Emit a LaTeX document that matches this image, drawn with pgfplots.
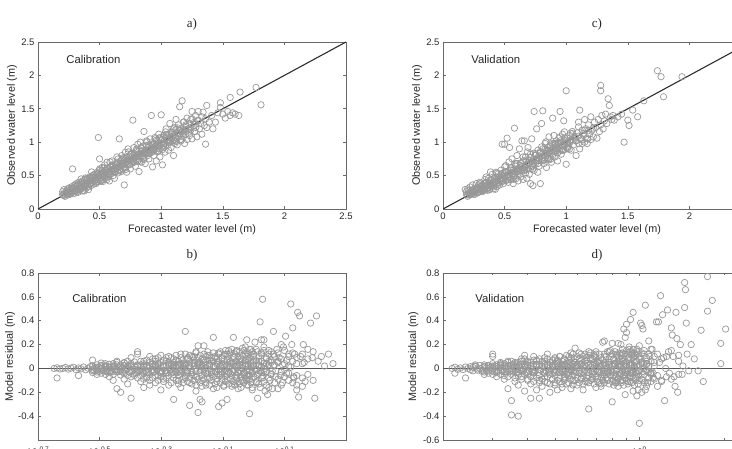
\documentclass[border=0pt]{standalone}
\usepackage{fontspec}
\setmainfont{Liberation Sans}
\newfontfamily\titlefont{Liberation Serif}
\usepackage{pgfplots}
\pgfplotsset{compat=1.18}

\definecolor{mk}{RGB}{152,152,152}
\definecolor{frame}{RGB}{105,105,105}
\definecolor{txt}{RGB}{40,40,40}
\definecolor{refline}{RGB}{45,45,45}
\definecolor{zeroline}{RGB}{85,85,85}

\pgfplotsset{
  panel/.style={
    scale only axis, width=308pt, height=167pt, anchor=south west,
    axis line style={draw=frame, line width=0.6pt},
    every tick/.style={draw=frame, line width=0.6pt},
    major tick length=3pt, minor tick length=2pt,
    tick align=inside,
    tick label style={font=\fontsize{9.5}{10}\selectfont, text=txt},
    /pgf/number format/assume math mode=true,
    label style={font=\fontsize{10.8}{12}\selectfont, text=txt},
    title style={font=\titlefont\fontsize{13}{14}\selectfont, text=txt,
                 at={(axis description cs:0.5,1.072)}, anchor=center},
    xlabel style={at={(axis description cs:0.5,-0.126)}, anchor=center},
  },
  pts/.style={only marks, mark=o, mark size=3.2pt,
              mark options={draw=mk, line width=0.7pt}},
}
\tikzset{tag/.style={anchor=west, font=\fontsize{11.3}{12}\selectfont, text=txt}}

\begin{document}
\begin{tikzpicture}[x=1pt,y=1pt]
\useasboundingbox (0,0) rectangle (732,449);
\clip (0,0) rectangle (732,449);

% ---------------- a) calibration: observed vs forecasted
\begin{axis}[panel, at={(38pt,240pt)},
  title={a)}, xlabel={Forecasted water level (m)}, ylabel={Observed water level (m)},
  ylabel style={at={(axis description cs:-0.084,0.5)}, anchor=center},
  xmin=0, xmax=2.5, ymin=0, ymax=2.5,
  xtick={0,0.5,1,1.5,2,2.5}, ytick={0,0.5,1,1.5,2,2.5}]
\addplot[pts] coordinates {
(0.20,0.22)(0.20,0.26)(0.21,0.20)(0.21,0.29)(0.22,0.24)(0.22,0.19)(0.23,0.27)(0.23,0.22)(0.24,0.30)(0.24,0.21)
(0.25,0.25)(0.25,0.31)(0.26,0.22)(0.26,0.28)(0.27,0.33)(0.27,0.24)(0.28,0.26)(0.28,0.60)(0.28,0.31)(0.29,0.23)
(0.29,0.35)(0.30,0.28)(0.30,0.33)(0.31,0.25)(0.31,0.38)(0.32,0.30)(0.32,0.35)(0.33,0.27)(0.33,0.40)(0.34,0.32)
(0.34,0.29)(0.35,0.37)(0.35,0.30)(0.36,0.42)(0.36,0.33)(0.37,0.28)(0.37,0.39)(0.38,0.35)(0.38,0.44)(0.39,0.31)
(0.39,0.40)(0.40,0.36)(0.40,0.46)(0.41,0.33)(0.41,0.42)(0.42,0.38)(0.42,0.48)(0.43,0.35)(0.43,0.45)(0.44,0.40)
(0.44,0.50)(0.45,0.37)(0.45,0.47)
(0.46,0.43)(0.46,0.52)(0.47,0.38)(0.47,0.49)(0.48,0.45)(0.48,0.55)(0.49,0.41)(0.49,1.07)(0.49,0.50)(0.50,0.46)
(0.50,0.58)(0.50,0.75)(0.51,0.42)(0.51,0.53)(0.52,0.48)(0.52,0.62)(0.53,0.44)(0.53,0.55)(0.54,0.50)(0.54,0.66)
(0.55,0.46)(0.55,0.58)(0.56,0.52)(0.56,0.70)(0.57,0.48)(0.57,0.60)(0.58,0.55)(0.58,0.42)(0.59,0.62)(0.59,0.52)
(0.60,0.58)(0.60,0.72)(0.61,0.50)(0.61,0.64)(0.62,0.60)(0.62,0.46)(0.63,0.66)(0.63,0.56)(0.64,0.78)(0.64,0.61)
(0.65,0.54)(0.65,0.68)(0.66,0.63)(0.66,1.05)(0.67,0.72)(0.67,0.58)(0.68,0.65)(0.68,0.80)(0.69,0.60)(0.69,0.70)
(0.70,0.36)(0.70,0.66)(0.70,0.76)(0.71,0.62)(0.71,0.85)(0.72,0.70)(0.72,0.55)(0.73,0.74)(0.73,0.90)(0.74,0.66)
(0.74,0.79)(0.75,0.60)(0.75,0.72)(0.76,0.82)(0.76,0.68)(0.77,1.33)(0.77,0.76)(0.78,0.92)(0.78,0.70)(0.79,0.80)
(0.79,0.64)(0.80,0.75)(0.80,0.88)(0.81,0.97)(0.81,0.72)(0.82,0.56)(0.82,0.83)(0.83,0.78)(0.83,1.00)(0.84,0.86)
(0.84,0.70)(0.85,0.80)(0.85,0.94)(0.86,1.16)(0.86,0.76)(0.87,0.88)(0.87,0.68)(0.88,0.84)(0.88,1.02)(0.89,0.80)
(0.89,0.92)(0.90,0.75)(0.90,0.88)(0.91,1.05)(0.91,0.84)(0.92,1.40)(0.92,0.95)(0.93,0.63)(0.93,0.88)(0.94,0.98)
(0.94,0.80)(0.95,1.07)(0.95,0.90)(0.96,0.72)(0.96,0.96)(0.97,1.02)(0.97,0.86)(0.98,0.94)(0.98,1.12)(0.99,0.90)
(0.99,0.78)(1.00,1.41)(1.00,0.98)
(1.01,0.66)(1.01,1.04)(1.02,0.92)(1.02,1.10)(1.03,0.98)(1.03,0.85)(1.04,1.06)(1.04,1.20)(1.05,0.95)(1.05,1.02)
(1.06,1.12)(1.06,0.88)(1.07,1.00)(1.07,1.28)(1.08,1.08)(1.08,0.92)(1.09,1.15)(1.09,1.02)(1.10,0.80)(1.10,1.10)
(1.11,0.98)(1.11,1.22)(1.12,1.06)(1.12,1.34)(1.13,1.14)(1.13,0.96)(1.14,1.08)(1.14,1.26)(1.15,1.53)(1.15,1.12)
(1.16,1.02)(1.16,1.20)(1.17,1.62)(1.17,1.16)(1.18,1.08)(1.18,1.30)(1.19,1.18)(1.19,0.98)(1.20,1.24)(1.20,1.12)
(1.21,1.36)(1.21,1.04)(1.22,1.20)(1.23,1.28)(1.23,1.10)(1.24,1.34)(1.24,1.18)(1.25,1.46)(1.25,1.05)(1.26,1.24)
(1.27,1.30)(1.27,1.16)(1.28,1.40)(1.28,1.22)(1.29,1.08)(1.30,1.32)(1.30,1.46)(1.31,1.20)(1.32,1.28)(1.33,1.38)
(1.33,1.12)(1.34,1.45)(1.35,1.25)(1.36,0.97)(1.36,1.35)(1.37,1.55)(1.37,1.22)
(1.39,1.30)(1.41,1.40)(1.42,1.20)(1.44,1.30)(1.46,1.44)(1.48,1.52)(1.48,1.59)(1.50,1.42)(1.52,1.36)(1.54,1.46)
(1.56,1.67)(1.56,1.40)(1.58,1.44)(1.60,1.42)(1.63,1.40)(1.64,1.75)(1.77,1.82)(1.81,1.56)
(0.21,0.22)(0.23,0.24)(0.25,0.26)(0.27,0.27)(0.29,0.30)(0.31,0.31)(0.33,0.34)(0.35,0.34)(0.37,0.37)(0.39,0.38)
(0.41,0.40)(0.43,0.43)(0.45,0.44)(0.47,0.47)(0.49,0.48)(0.51,0.50)(0.53,0.52)(0.55,0.55)(0.57,0.56)(0.59,0.58)
(0.61,0.60)(0.63,0.62)(0.65,0.64)(0.67,0.66)(0.69,0.68)(0.71,0.70)(0.73,0.72)(0.75,0.74)(0.77,0.76)(0.79,0.78)
(0.81,0.80)(0.83,0.82)(0.85,0.84)(0.87,0.86)(0.89,0.88)(0.91,0.90)(0.93,0.92)(0.95,0.94)(0.97,0.96)(0.99,0.98)
(1.02,1.01)(1.05,1.04)(1.08,1.07)(1.11,1.10)(1.14,1.13)(1.17,1.16)(1.20,1.19)(1.24,1.22)(1.28,1.27)
(0.24,0.27)(0.28,0.31)(0.32,0.36)(0.36,0.40)(0.40,0.44)(0.44,0.48)(0.48,0.53)(0.52,0.57)(0.56,0.61)(0.60,0.65)
(0.64,0.70)(0.68,0.74)(0.72,0.78)(0.76,0.83)(0.80,0.86)(0.84,0.91)(0.88,0.95)(0.92,0.99)(0.96,1.03)(1.00,1.07)
(1.04,1.11)(1.08,1.15)(1.12,1.19)
(0.26,0.23)(0.30,0.27)(0.34,0.30)(0.38,0.33)(0.42,0.37)(0.46,0.41)(0.50,0.44)(0.54,0.48)(0.58,0.52)(0.62,0.56)
(0.66,0.59)(0.70,0.63)(0.74,0.67)(0.78,0.71)(0.82,0.75)(0.86,0.79)(0.90,0.83)(0.94,0.87)(0.98,0.91)(1.02,0.95)
(1.06,0.99)(1.10,1.03)
(0.300,0.36)(0.325,0.25)(0.350,0.45)(0.375,0.27)(0.400,0.43)(0.425,0.39)(0.450,0.51)(0.475,0.40)(0.500,0.60)(0.525,0.41)
(0.550,0.58)(0.575,0.53)(0.600,0.66)(0.625,0.55)(0.650,0.75)(0.675,0.56)(0.700,0.73)(0.725,0.68)(0.750,0.81)(0.775,0.70)
(0.800,0.90)(0.825,0.71)(0.850,0.88)(0.875,0.83)(0.900,0.96)(0.925,0.85)(0.950,1.05)(0.975,0.86)(1.000,1.03)(1.025,0.98)
(1.050,1.11)(1.075,1.00)(1.100,1.20)(1.125,1.01)(1.150,1.18)(1.175,1.13)(1.200,1.26)(1.225,1.15)(1.250,1.35)(1.275,1.16)
(1.300,1.33)
(0.31,0.28)(0.335,0.375)(0.36,0.27)(0.385,0.465)(0.41,0.29)(0.435,0.555)(0.46,0.43)(0.485,0.525)(0.51,0.42)(0.535,0.615)
(0.56,0.44)(0.585,0.705)(0.61,0.58)(0.635,0.675)(0.66,0.57)(0.685,0.765)(0.71,0.59)(0.735,0.855)(0.76,0.73)(0.785,0.825)
(0.81,0.72)(0.835,0.915)(0.86,0.74)(0.885,1.005)(0.91,0.88)(0.935,0.975)(0.96,0.87)(0.985,1.065)(1.01,0.89)(1.035,1.155)
(1.06,1.03)(1.085,1.125)(1.11,1.02)(1.135,1.215)(1.16,1.04)(1.185,1.305)
};
\addplot[refline, line width=1.1pt] coordinates {(0,0) (2.5,2.5)};
\node[tag] at (axis description cs:0.081,0.898) {Calibration};
\end{axis}

% ---------------- c) validation: observed vs forecasted
\begin{axis}[panel, at={(443pt,240pt)},
  title={c)}, xlabel={Forecasted water level (m)}, ylabel={Observed water level (m)},
  ylabel style={at={(axis description cs:-0.084,0.5)}, anchor=center},
  xmin=0, xmax=2.5, ymin=0, ymax=2.5,
  xtick={0,0.5,1,1.5,2,2.5}, ytick={0,0.5,1,1.5,2,2.5}]
\addplot[pts] coordinates {
(0.18,0.29)(0.19,0.22)(0.19,0.26)(0.20,0.30)(0.20,0.19)(0.21,0.24)(0.21,0.28)(0.22,0.21)(0.22,0.33)(0.23,0.26)
(0.23,0.23)(0.24,0.29)(0.24,0.36)(0.25,0.24)(0.25,0.27)(0.26,0.31)(0.26,0.22)(0.27,0.38)(0.27,0.28)(0.28,0.25)
(0.28,0.32)(0.29,0.29)(0.29,0.36)(0.30,0.26)(0.30,0.40)(0.31,0.31)(0.31,0.28)(0.32,0.35)(0.32,0.26)(0.33,0.38)
(0.33,0.31)(0.34,0.44)(0.34,0.29)(0.35,0.34)(0.35,0.40)(0.36,0.31)(0.36,0.36)(0.37,0.46)(0.37,0.33)(0.38,0.39)
(0.38,0.30)(0.39,0.44)(0.39,0.35)(0.40,0.52)(0.40,0.37)(0.41,0.41)(0.41,0.33)(0.42,0.47)(0.42,0.39)(0.43,0.36)
(0.43,0.55)(0.44,0.42)(0.44,0.34)(0.45,0.48)(0.45,0.40)
(0.46,0.44)(0.46,0.36)(0.47,0.58)(0.47,0.47)(0.48,0.41)(0.48,0.97)(0.48,0.50)(0.49,0.38)(0.49,0.45)(0.50,0.55)
(0.50,0.97)(0.51,0.43)(0.51,0.65)(0.52,1.06)(0.52,0.50)(0.53,0.40)(0.53,0.56)(0.54,0.92)(0.54,0.47)(0.55,0.62)
(0.55,0.44)(0.56,0.52)(0.56,0.75)(0.57,0.38)(0.57,0.58)(0.58,1.21)(0.58,0.50)(0.59,0.66)(0.59,0.45)(0.60,0.56)
(0.60,0.80)(0.61,0.42)(0.61,0.60)(0.62,0.52)(0.62,0.90)(0.63,0.65)(0.63,0.48)(0.64,1.02)(0.64,0.58)(0.65,0.72)
(0.65,0.44)(0.66,1.02)(0.66,0.62)(0.67,0.54)(0.67,0.78)(0.68,0.66)(0.68,0.46)(0.69,0.92)(0.69,0.60)(0.70,0.70)
(0.70,0.52)
(0.71,0.38)(0.71,0.82)(0.72,0.64)(0.72,1.05)(0.73,0.35)(0.73,0.74)(0.74,1.46)(0.74,0.58)(0.75,0.80)(0.75,0.68)
(0.76,1.20)(0.76,0.72)(0.77,0.55)(0.77,0.88)(0.78,0.76)(0.78,0.64)(0.79,0.38)(0.79,0.84)(0.80,1.28)(0.80,0.74)
(0.81,1.47)(0.81,0.90)(0.82,0.68)(0.82,0.80)(0.83,0.98)(0.83,0.76)(0.84,0.86)(0.84,0.62)(0.85,0.92)(0.85,0.80)
(0.86,1.08)(0.86,0.74)(0.87,0.88)(0.87,0.96)(0.88,0.82)(0.88,0.70)(0.89,1.36)(0.89,0.92)(0.90,0.86)(0.90,1.10)
(0.91,0.78)(0.91,0.96)(0.92,0.90)(0.92,1.02)(0.93,0.84)(0.93,0.72)(0.94,0.98)(0.94,1.06)(0.95,1.46)(0.95,0.90)
(0.96,0.82)(0.96,1.00)(0.97,0.94)(0.97,1.12)(0.98,1.32)(0.98,0.88)(0.99,1.02)(0.99,0.96)(1.00,1.77)(1.00,0.67)
(1.00,0.98)
(1.01,1.06)(1.02,0.94)(1.03,1.10)(1.03,1.00)(1.04,0.88)(1.05,1.04)(1.05,1.16)(1.06,0.96)(1.07,1.08)(1.08,0.80)
(1.08,1.02)(1.09,1.14)(1.10,0.98)(1.10,1.30)(1.11,1.48)(1.11,0.90)(1.12,1.06)(1.13,1.18)(1.13,0.98)(1.14,1.10)
(1.15,1.34)(1.15,1.00)(1.16,1.20)(1.17,1.06)(1.17,0.98)(1.18,1.26)(1.19,1.12)(1.20,1.38)(1.20,1.04)(1.21,1.18)
(1.22,1.08)(1.23,1.30)(1.24,1.22)(1.25,1.06)(1.26,1.34)(1.27,1.16)(1.28,1.85)(1.28,1.77)(1.28,1.26)(1.29,1.40)
(1.30,1.20)(1.31,1.32)(1.32,1.42)(1.33,1.28)(1.34,1.65)(1.35,1.55)(1.36,1.38)(1.37,1.34)(1.38,1.40)
(1.39,1.33)(1.42,1.38)(1.45,1.42)(1.47,1.00)(1.50,1.33)(1.51,1.25)(1.54,1.48)(1.58,1.38)(1.63,1.62)(1.74,2.07)
(1.77,1.98)(1.79,1.68)(1.94,1.98)
(0.20,0.21)(0.22,0.23)(0.24,0.24)(0.26,0.26)(0.28,0.28)(0.30,0.29)(0.32,0.32)(0.34,0.33)(0.36,0.35)(0.38,0.37)
(0.40,0.39)(0.42,0.41)(0.44,0.43)(0.46,0.45)(0.48,0.46)(0.50,0.49)(0.52,0.51)(0.54,0.52)(0.56,0.55)(0.58,0.56)
(0.60,0.59)(0.62,0.60)(0.64,0.63)(0.66,0.64)(0.68,0.67)(0.70,0.68)(0.72,0.71)(0.74,0.72)(0.76,0.75)(0.78,0.76)
(0.80,0.79)(0.82,0.80)(0.84,0.83)(0.86,0.84)(0.88,0.87)(0.90,0.89)(0.92,0.91)(0.94,0.93)(0.96,0.95)(0.98,0.97)
(1.01,1.00)(1.04,1.03)(1.07,1.06)(1.10,1.09)(1.14,1.13)(1.18,1.17)(1.22,1.21)
(0.23,0.27)(0.27,0.31)(0.31,0.35)(0.35,0.39)(0.39,0.43)(0.43,0.48)(0.47,0.52)(0.51,0.56)(0.55,0.60)(0.59,0.64)
(0.63,0.69)(0.67,0.73)(0.71,0.77)(0.75,0.81)(0.79,0.86)(0.83,0.90)(0.87,0.94)(0.91,0.98)(0.95,1.02)(0.99,1.06)
(0.25,0.22)(0.29,0.25)(0.33,0.28)(0.37,0.32)(0.41,0.35)(0.45,0.39)(0.49,0.42)(0.53,0.46)(0.57,0.49)(0.61,0.53)
(0.65,0.57)(0.69,0.61)(0.73,0.64)(0.77,0.68)(0.81,0.72)(0.85,0.76)(0.89,0.80)(0.93,0.84)(0.97,0.88)(1.01,0.92)
(0.30,0.38)(0.325,0.275)(0.35,0.48)(0.375,0.285)(0.40,0.43)(0.425,0.295)(0.45,0.53)(0.475,0.425)(0.50,0.63)(0.525,0.435)
(0.55,0.58)(0.575,0.445)(0.60,0.68)(0.625,0.575)(0.65,0.78)(0.675,0.585)(0.70,0.73)(0.725,0.595)(0.75,0.83)(0.775,0.725)
(0.80,0.93)(0.825,0.735)(0.85,0.88)(0.875,0.745)(0.90,0.98)(0.925,0.875)(0.95,1.08)(0.975,0.885)(1.00,1.03)(1.025,0.895)
(1.05,1.13)(1.075,1.025)(1.10,1.23)(1.125,1.035)(1.15,1.18)(1.175,1.045)
(0.31,0.28)(0.335,0.385)(0.36,0.28)(0.385,0.555)(0.41,0.30)(0.435,0.535)(0.46,0.43)(0.485,0.535)(0.51,0.43)(0.535,0.705)
(0.56,0.45)(0.585,0.685)(0.61,0.58)(0.635,0.685)(0.66,0.58)(0.685,0.855)(0.71,0.60)(0.735,0.835)(0.76,0.73)(0.785,0.835)
(0.81,0.73)(0.835,1.005)(0.86,0.75)(0.885,0.985)(0.91,0.88)(0.935,0.985)(0.96,0.88)(0.985,1.155)(1.01,0.90)(1.035,1.135)
};
\addplot[refline, line width=1.1pt] coordinates {(0,0) (2.5,2.5)};
\node[tag] at (axis description cs:0.081,0.898) {Validation};
\end{axis}

% ---------------- b) calibration residuals
\begin{axis}[panel, at={(38pt,9pt)},
  title={b)}, ylabel={Model residual (m)},
  ylabel style={at={(axis description cs:-0.091,0.5)}, anchor=center},
  xmode=log, xmin=0.19953, xmax=1.99526, ymin=-0.6, ymax=0.8,
  xtick={0.19953,0.31623,0.50119,0.79433,1.25893},
  xticklabels={10\textsuperscript{-0.7},10\textsuperscript{-0.5},10\textsuperscript{-0.3},10\textsuperscript{-0.1},10\textsuperscript{0.1}},
  xticklabel style={yshift=-3.5pt},
  xminorticks=false,
  ytick={-0.4,-0.2,0,0.2,0.4,0.6,0.8},
  yticklabel style={/pgf/number format/fixed}]
\addplot[pts] coordinates {
(0.225,0.00)(0.23,0.005)(0.235,-0.005)(0.24,0.00)(0.245,0.008)(0.25,-0.006)(0.255,0.002)(0.26,0.01)(0.265,-0.01)(0.27,0.004)
(0.275,-0.003)(0.28,0.012)(0.285,-0.012)(0.29,0.002)(0.295,0.015)(0.30,-0.008)(0.305,0.006)(0.31,-0.015)(0.315,0.01)(0.32,0.00)
(0.325,-0.02)(0.33,0.018)(0.335,-0.005)(0.34,0.008)(0.345,-0.018)(0.35,0.02)(0.355,0.00)(0.36,-0.012)(0.365,0.014)(0.37,-0.025)
(0.375,0.005)(0.38,0.022)(0.385,-0.01)(0.39,0.00)(0.395,-0.03)(0.40,0.015)(0.41,-0.006)(0.42,0.025)(0.43,-0.02)(0.44,0.008)
(0.45,-0.035)(0.46,0.02)(0.47,-0.01)(0.48,0.03)(0.49,0.00)(0.50,-0.025)(0.51,0.015)(0.52,-0.04)(0.53,0.028)(0.54,-0.008)
(0.55,0.01)(0.56,-0.03)(0.57,0.035)(0.58,-0.015)(0.59,0.005)(0.60,0.025)(0.61,-0.04)(0.62,0.012)(0.63,-0.02)(0.64,0.04)
(0.65,-0.005)(0.66,0.02)(0.67,-0.035)(0.68,0.03)(0.69,-0.01)(0.70,0.008)(0.71,-0.045)(0.72,0.04)(0.73,-0.02)(0.74,0.015)
(0.75,-0.03)(0.76,0.05)(0.77,-0.008)(0.78,0.025)(0.79,-0.05)(0.80,0.01)(0.81,0.035)(0.82,-0.025)(0.83,0.005)(0.84,-0.04)
(0.85,0.045)(0.86,-0.012)(0.87,0.02)(0.88,-0.055)(0.89,0.03)(0.90,-0.02)(0.91,0.06)(0.92,0.00)(0.93,-0.035)(0.94,0.04)
(0.95,-0.06)(0.96,0.015)(0.97,-0.02)(0.98,0.05)(0.99,-0.04)(1.00,0.02)(1.01,-0.01)(1.02,0.065)(1.03,-0.05)(1.04,0.03)
(1.05,-0.02)(1.06,0.01)(1.07,-0.06)(1.08,0.045)(1.09,0.00)(1.10,-0.03)(1.12,0.06)(1.14,-0.045)(1.16,0.02)(1.18,-0.02)
(1.20,0.05)(1.22,-0.06)(1.24,0.03)(1.26,-0.01)(1.28,0.07)(1.30,-0.04)(1.32,0.01)(1.35,-0.07)(1.38,0.04)
(0.23,-0.08)(0.27,-0.06)(0.30,0.07)(0.31,-0.05)(0.33,0.04)(0.34,-0.07)(0.35,-0.10)(0.36,0.06)(0.36,-0.17)(0.37,-0.20)
(0.38,0.05)(0.38,-0.09)(0.39,-0.13)(0.40,0.09)(0.40,-0.25)(0.41,-0.06)(0.42,0.14)(0.42,0.12)(0.43,-0.11)(0.44,0.06)
(0.44,-0.16)(0.45,-0.08)(0.46,0.10)(0.46,-0.14)(0.47,0.04)(0.48,-0.12)(0.48,0.08)(0.49,-0.06)(0.50,0.11)(0.50,-0.18)
(0.51,-0.09)(0.52,0.06)(0.53,-0.14)(0.54,0.09)(0.55,-0.26)(0.55,-0.05)(0.56,0.07)(0.57,-0.10)(0.58,0.12)(0.58,-0.16)
(0.59,0.04)(0.60,0.31)(0.60,-0.08)(0.61,0.08)(0.62,-0.31)(0.62,-0.12)(0.63,0.10)(0.64,-0.06)(0.65,0.14)(0.65,-0.19)
(0.66,0.19)(0.66,-0.37)(0.67,-0.26)(0.67,0.05)(0.68,-0.28)(0.68,-0.10)(0.69,0.19)(0.69,0.07)(0.70,-0.14)(0.71,0.11)
(0.72,-0.08)(0.73,0.06)(0.74,0.26)(0.74,-0.17)(0.75,0.09)(0.76,-0.11)(0.77,-0.32)(0.77,0.13)(0.78,-0.06)(0.79,-0.29)
(0.79,0.08)(0.80,-0.15)(0.81,0.12)(0.82,-0.26)(0.82,-0.09)(0.83,0.15)(0.84,0.06)(0.85,-0.13)(0.86,0.26)(0.86,0.10)
(0.87,-0.07)(0.88,0.14)(0.89,-0.17)(0.90,0.08)(0.91,-0.10)(0.92,0.17)(0.93,-0.05)(0.94,0.12)(0.95,0.24)(0.95,-0.14)
(0.96,0.07)(0.97,-0.38)(0.97,-0.09)(0.98,0.16)(0.99,-0.18)(1.00,0.10)(1.01,0.22)(1.02,-0.12)(1.03,-0.25)(1.03,0.14)
(1.04,0.06)(1.05,0.39)(1.05,-0.16)(1.06,0.24)(1.06,0.12)(1.07,0.58)(1.07,-0.08)(1.08,0.24)(1.08,0.18)(1.09,-0.19)
(1.10,0.08)(1.11,-0.22)(1.12,0.15)(1.13,-0.10)(1.14,0.05)(1.15,-0.17)(1.16,0.31)(1.16,0.12)(1.18,-0.07)(1.19,0.16)
(1.20,-0.17)(1.21,0.09)(1.23,0.20)(1.24,-0.12)(1.25,0.18)(1.27,0.27)(1.28,-0.04)(1.30,0.12)(1.32,0.54)(1.33,0.20)
(1.34,0.34)(1.35,-0.08)(1.36,0.12)(1.38,-0.18)(1.39,0.47)(1.40,-0.24)(1.41,0.44)(1.42,0.10)(1.44,-0.15)(1.45,0.20)
(1.46,0.05)(1.47,-0.11)(1.50,0.16)(1.53,0.38)(1.55,0.09)(1.58,-0.25)(1.60,0.44)(1.62,0.06)(1.66,0.10)(1.70,0.02)
(1.75,0.12)(1.81,0.04)
(0.30,0.02)(0.30,-0.02)(0.30,-0.035)(0.31,0.03)(0.31,-0.03)(0.32,-0.04)(0.32,0.025)(0.32,0.045)(0.33,-0.025)(0.33,0.01)
(0.33,-0.05)(0.34,0.035)(0.34,-0.035)(0.35,-0.05)(0.35,0.04)(0.35,0.01)(0.36,-0.03)(0.36,0.05)(0.37,0.03)(0.37,-0.055)
(0.37,-0.01)(0.38,-0.04)(0.38,0.045)(0.39,0.06)(0.39,-0.06)(0.39,0.02)(0.40,-0.02)(0.40,-0.07)(0.40,0.04)(0.41,0.055)
(0.41,-0.045)(0.42,-0.08)(0.42,0.03)(0.42,-0.03)(0.43,0.06)(0.43,-0.06)(0.43,0.01)(0.44,-0.04)(0.44,0.04)(0.44,-0.09)
(0.45,0.07)(0.45,-0.07)(0.45,0.02)(0.46,-0.05)(0.46,0.05)(0.46,-0.10)(0.47,0.08)(0.47,-0.08)(0.47,-0.03)(0.48,-0.06)
(0.48,0.06)(0.48,0.01)(0.49,0.04)(0.49,-0.10)(0.49,0.09)(0.50,-0.07)(0.50,0.05)(0.50,-0.04)(0.51,0.07)(0.51,-0.11)
(0.51,0.02)(0.52,-0.08)(0.52,0.09)(0.52,-0.02)(0.53,0.05)(0.53,-0.06)(0.53,0.10)(0.54,-0.12)(0.54,0.03)(0.54,-0.04)
(0.55,0.08)(0.55,-0.08)(0.55,0.05)(0.56,-0.10)(0.56,0.11)(0.56,0.02)(0.57,-0.06)(0.57,0.06)(0.57,-0.13)(0.58,0.09)
(0.58,-0.04)(0.58,0.03)(0.59,-0.09)(0.59,0.07)(0.59,-0.12)(0.60,0.12)(0.60,-0.06)(0.60,0.04)(0.61,-0.11)(0.61,0.09)
(0.61,-0.02)(0.62,0.06)(0.62,-0.08)(0.62,0.11)(0.63,-0.13)(0.63,0.04)(0.63,-0.05)(0.64,0.10)(0.64,-0.10)(0.64,0.07)
(0.65,-0.07)(0.65,0.13)(0.65,-0.14)(0.66,0.05)(0.66,-0.09)(0.66,0.09)(0.67,-0.12)(0.67,0.11)(0.67,0.03)(0.68,0.08)
(0.68,-0.06)(0.68,-0.15)(0.69,-0.09)(0.69,0.12)(0.69,0.05)(0.70,0.10)(0.70,-0.12)(0.70,-0.04)(0.71,-0.08)(0.71,0.07)
(0.71,0.14)(0.72,0.11)(0.72,-0.14)(0.72,0.03)(0.73,-0.10)(0.73,0.09)(0.73,-0.05)(0.74,0.13)(0.74,-0.07)(0.74,0.06)
(0.75,-0.13)(0.75,0.10)(0.75,0.02)(0.76,0.08)(0.76,-0.09)(0.76,-0.16)(0.77,-0.05)(0.77,0.12)(0.77,0.06)(0.78,0.14)
(0.78,-0.12)(0.78,-0.03)(0.79,-0.09)(0.79,0.09)(0.79,0.03)(0.80,0.11)(0.80,-0.14)(0.80,0.06)(0.81,-0.07)(0.81,0.15)
(0.81,-0.11)(0.82,0.07)(0.82,-0.05)(0.82,0.12)(0.83,-0.13)(0.83,0.10)(0.83,-0.03)(0.84,0.13)(0.84,-0.09)(0.84,0.04)
(0.85,-0.06)(0.85,0.16)(0.85,-0.15)(0.86,0.09)(0.86,-0.11)(0.86,0.05)(0.87,-0.14)(0.87,0.12)(0.87,0.02)(0.88,0.06)
(0.88,-0.08)(0.88,0.15)(0.89,-0.11)(0.89,0.10)(0.89,-0.04)(0.90,0.14)(0.90,-0.13)(0.90,0.05)(0.91,-0.07)(0.91,0.08)
(0.91,-0.16)(0.92,0.11)(0.92,-0.10)(0.92,0.03)(0.93,-0.12)(0.93,0.15)(0.93,-0.04)(0.94,0.07)(0.94,-0.08)(0.94,0.18)
(0.95,-0.10)(0.95,0.10)(0.95,0.03)(0.96,0.13)(0.96,-0.14)(0.96,-0.05)(0.97,-0.06)(0.97,0.09)(0.97,0.16)(0.98,0.11)
(0.98,-0.12)(0.98,0.04)(0.99,-0.09)(0.99,0.14)(0.99,-0.16)(1.00,0.06)(1.00,-0.07)(1.00,0.12)(1.02,-0.11)(1.02,0.16)
(1.02,0.04)(1.04,0.10)(1.04,-0.13)(1.04,-0.04)(1.06,-0.08)(1.06,0.13)(1.06,0.06)(1.08,0.15)(1.08,-0.11)(1.08,-0.02)
(1.10,-0.14)(1.10,0.09)(1.10,0.04)(1.12,0.12)(1.12,-0.08)(1.12,-0.16)(1.14,-0.05)(1.14,0.14)(1.14,0.07)(1.17,0.10)
(1.17,-0.12)(1.17,0.03)(1.20,-0.09)(1.20,0.13)(1.20,0.06)(1.23,0.08)(1.23,-0.14)(1.23,-0.03)(1.26,0.15)(1.26,-0.07)
(1.26,0.04)(1.30,-0.10)(1.30,0.10)(1.30,0.02)(1.34,0.13)(1.34,-0.12)(1.34,0.06)(1.38,-0.06)(1.38,0.09)(1.38,-0.14)
(1.44,0.12)(1.44,0.04)(1.44,-0.08)(1.50,-0.05)(1.50,0.08)(1.56,0.14)(1.56,-0.10)
(0.300,0.02)(0.305,-0.02)(0.31,0.01)(0.315,-0.025)(0.32,0.02)(0.325,-0.01)(0.33,0.025)(0.335,-0.02)(0.34,0.01)(0.345,-0.03)
(0.35,0.02)(0.355,-0.015)(0.36,0.03)(0.365,-0.025)(0.37,0.01)(0.375,-0.03)(0.38,0.025)(0.385,-0.01)(0.39,0.02)(0.395,-0.03)
(0.40,0.03)(0.405,-0.02)(0.41,0.015)(0.415,-0.035)(0.42,0.02)(0.425,-0.015)(0.43,0.03)(0.435,-0.03)(0.44,0.015)(0.445,-0.02)
(0.45,0.025)(0.455,-0.035)(0.46,0.01)(0.465,-0.02)(0.47,0.035)(0.475,-0.03)(0.48,0.02)(0.485,-0.015)(0.49,0.03)(0.495,-0.035)
(0.50,0.015)(0.505,-0.025)(0.51,0.03)(0.515,-0.02)(0.52,0.02)(0.525,-0.035)(0.53,0.035)(0.535,-0.015)(0.54,0.02)(0.545,-0.03)
(0.55,0.03)(0.555,-0.02)(0.56,0.015)(0.565,-0.035)(0.57,0.025)(0.575,-0.025)(0.58,0.035)(0.585,-0.015)(0.59,0.02)(0.595,-0.03)
(0.60,0.03)(0.61,-0.02)(0.62,0.025)(0.63,-0.035)(0.64,0.02)(0.65,-0.025)(0.66,0.035)(0.67,-0.015)(0.68,0.02)(0.69,-0.03)
(0.70,0.03)(0.71,-0.02)(0.72,0.025)(0.73,-0.035)(0.74,0.02)(0.75,-0.025)(0.76,0.035)(0.77,-0.015)(0.78,0.02)(0.79,-0.03)
(0.80,0.03)(0.81,-0.02)(0.82,0.025)(0.83,-0.035)(0.84,0.02)(0.85,-0.025)(0.86,0.035)(0.87,-0.015)(0.88,0.02)(0.89,-0.03)
(0.90,0.03)(0.91,-0.02)(0.92,0.025)(0.93,-0.035)(0.94,0.02)(0.95,-0.025)(0.96,0.035)(0.97,-0.015)(0.98,0.02)(0.99,-0.03)
(1.00,0.03)(1.02,-0.02)(1.04,0.025)(1.06,-0.035)(1.08,0.02)(1.10,-0.025)(1.12,0.03)(1.15,-0.02)
};
\addplot[zeroline, line width=1.6pt] coordinates {(0.19953,0) (1.99526,0)};
\node[tag] at (axis description cs:0.10,0.85) {Calibration};
\end{axis}

% ---------------- d) validation residuals
\begin{axis}[panel, at={(443pt,9pt)},
  title={d)}, ylabel={Model residual (m)},
  ylabel style={at={(axis description cs:-0.096,0.5)}, anchor=center},
  xmode=log, xmin=0.19953, xmax=2.5, ymin=-0.6, ymax=0.8,
  xtick={1}, xticklabels={10\textsuperscript{0}},
  xticklabel style={yshift=-3.5pt},
  minor xtick={0.2,0.3,0.4,0.5,0.6,0.7,0.8,0.9,2},
  ytick={-0.6,-0.4,-0.2,0,0.2,0.4,0.6,0.8},
  yticklabel style={/pgf/number format/fixed}]
\addplot[pts] coordinates {
(0.215,0.00)(0.22,0.01)(0.225,-0.008)(0.23,0.004)(0.235,-0.01)(0.24,0.012)(0.245,0.00)(0.25,-0.012)(0.255,0.008)(0.26,0.015)
(0.265,-0.005)(0.27,0.00)(0.275,-0.015)(0.28,0.018)(0.285,0.004)(0.29,-0.02)(0.295,0.01)(0.30,0.00)(0.305,0.02)(0.31,-0.015)
(0.315,0.006)(0.32,0.025)(0.325,-0.022)(0.33,0.01)(0.335,-0.005)(0.34,0.02)(0.345,-0.028)(0.35,0.00)(0.355,0.028)(0.36,-0.012)
(0.365,0.015)(0.37,-0.03)(0.375,0.005)(0.38,0.03)(0.385,-0.02)(0.39,0.01)(0.395,-0.035)(0.40,0.025)(0.41,0.00)(0.42,-0.03)
(0.43,0.035)(0.44,-0.01)(0.45,0.02)(0.46,-0.04)(0.47,0.03)(0.48,-0.015)(0.49,0.01)(0.50,-0.035)(0.51,0.04)(0.52,0.00)
(0.53,-0.025)(0.54,0.03)(0.55,-0.045)(0.56,0.015)(0.57,-0.01)(0.58,0.04)(0.59,-0.03)(0.60,0.005)(0.61,0.035)(0.62,-0.04)
(0.63,0.02)(0.64,-0.015)(0.65,0.045)(0.66,-0.035)(0.67,0.01)(0.68,-0.05)(0.69,0.03)(0.70,-0.01)(0.71,0.05)(0.72,-0.03)
(0.73,0.015)(0.74,-0.055)(0.75,0.035)(0.76,0.00)(0.77,-0.04)(0.78,0.05)(0.79,-0.02)(0.80,0.02)(0.81,-0.06)(0.82,0.04)
(0.83,-0.01)(0.84,0.055)(0.85,-0.045)(0.86,0.01)(0.87,-0.025)(0.88,0.06)(0.89,-0.05)(0.90,0.02)(0.91,-0.015)(0.92,0.045)
(0.93,-0.06)(0.94,0.03)(0.95,-0.03)(0.96,0.01)(0.97,0.06)(0.98,-0.045)(0.99,0.02)(1.00,-0.02)(1.02,0.05)(1.04,-0.05)
(1.06,0.03)(1.08,-0.03)(1.10,0.06)(1.12,-0.04)
(0.22,-0.04)(0.24,-0.08)(0.26,0.03)(0.28,-0.05)(0.30,0.12)(0.30,0.10)(0.31,-0.07)(0.32,0.04)(0.33,-0.09)(0.34,0.06)
(0.34,-0.17)(0.35,-0.27)(0.35,-0.39)(0.36,-0.11)(0.36,0.05)(0.37,-0.40)(0.37,-0.14)(0.38,0.08)(0.38,-0.07)(0.39,0.11)
(0.39,-0.19)(0.40,-0.09)(0.40,0.05)(0.41,-0.25)(0.41,-0.13)(0.42,0.10)(0.42,-0.06)(0.43,-0.18)(0.43,0.07)(0.44,-0.25)
(0.44,-0.10)(0.45,0.06)(0.45,-0.15)(0.46,0.09)(0.46,-0.07)(0.47,-0.12)(0.47,0.12)(0.48,-0.20)(0.48,0.05)(0.49,-0.09)
(0.50,0.08)(0.50,-0.14)(0.51,-0.18)(0.51,0.06)(0.52,-0.11)(0.52,0.10)(0.53,-0.16)(0.54,0.07)(0.54,-0.08)(0.55,-0.13)
(0.56,0.10)(0.56,-0.06)(0.57,0.13)(0.57,-0.17)(0.58,-0.10)(0.59,0.17)(0.59,0.05)(0.60,-0.14)(0.61,0.08)(0.62,-0.08)
(0.62,0.12)(0.63,-0.18)(0.64,0.06)(0.65,-0.11)(0.66,0.14)(0.66,-0.34)(0.67,0.08)(0.68,-0.07)(0.69,0.10)(0.70,-0.16)
(0.70,0.12)(0.71,-0.09)(0.72,0.06)(0.73,-0.13)(0.74,0.22)(0.75,0.23)(0.75,-0.06)(0.76,0.10)(0.77,-0.10)(0.78,0.14)
(0.79,-0.05)(0.80,0.21)(0.80,-0.28)(0.81,0.08)(0.82,-0.12)(0.83,0.12)(0.84,0.21)(0.84,-0.08)(0.85,0.06)(0.86,0.20)
(0.86,-0.10)(0.87,0.13)(0.88,0.33)(0.88,-0.06)(0.89,0.26)(0.89,-0.22)(0.90,0.30)(0.90,0.37)(0.91,0.08)(0.91,-0.11)
(0.92,0.16)(0.93,0.41)(0.93,-0.04)(0.94,0.12)(0.95,0.47)(0.95,-0.19)(0.96,0.10)(0.97,-0.08)(0.98,-0.23)(0.98,0.14)
(0.99,-0.18)(1.00,-0.46)(1.00,0.08)(1.01,0.38)(1.02,0.36)(1.02,-0.20)(1.03,0.33)(1.03,-0.10)(1.04,0.12)(1.05,0.53)
(1.05,-0.18)(1.06,0.04)(1.07,-0.12)(1.08,0.23)(1.09,0.10)(1.10,-0.05)(1.11,0.16)(1.12,-0.08)(1.13,0.02)(1.15,0.39)
(1.16,-0.15)(1.17,0.39)(1.18,0.05)(1.19,0.61)(1.20,-0.10)(1.21,0.45)(1.22,0.09)(1.23,-0.27)(1.24,0.00)(1.26,0.49)
(1.27,0.14)(1.28,-0.04)(1.30,0.34)(1.31,0.28)(1.32,0.10)(1.33,-0.07)(1.34,-0.15)(1.35,0.47)(1.36,0.25)(1.37,-0.20)
(1.38,0.06)(1.40,0.20)(1.42,-0.05)(1.43,0.02)(1.45,0.72)(1.45,0.51)(1.46,0.66)(1.47,0.38)(1.48,0.12)(1.50,-0.02)
(1.53,0.20)(1.57,0.08)(1.62,-0.02)(1.66,0.32)(1.69,-0.11)(1.75,0.77)(1.75,0.48)(1.82,0.57)(1.95,0.21)(1.95,0.04)
(2.03,0.33)
(0.28,0.03)(0.28,-0.03)(0.29,-0.04)(0.29,0.02)(0.30,0.04)(0.30,-0.02)(0.30,-0.05)(0.31,-0.035)(0.31,0.03)(0.32,0.05)
(0.32,-0.05)(0.32,0.01)(0.33,-0.03)(0.33,0.04)(0.33,-0.06)(0.34,0.02)(0.34,-0.07)(0.34,0.05)(0.35,-0.05)(0.35,0.06)
(0.35,-0.02)(0.36,0.04)(0.36,-0.08)(0.36,0.01)(0.37,-0.06)(0.37,0.05)(0.37,-0.03)(0.38,0.06)(0.38,-0.09)(0.38,-0.02)
(0.39,-0.05)(0.39,0.04)(0.39,0.08)(0.40,-0.10)(0.40,0.06)(0.40,-0.03)(0.41,0.05)(0.41,-0.07)(0.41,0.02)(0.42,-0.11)
(0.42,0.07)(0.42,-0.04)(0.43,0.03)(0.43,-0.08)(0.43,0.06)(0.44,-0.06)(0.44,0.08)(0.44,-0.12)(0.45,0.05)(0.45,-0.09)
(0.45,0.02)(0.46,-0.11)(0.46,0.06)(0.46,-0.04)(0.47,0.08)(0.47,-0.07)(0.47,0.03)(0.48,-0.13)(0.48,0.05)(0.48,-0.05)
(0.49,0.07)(0.49,-0.09)(0.49,0.02)(0.50,-0.06)(0.50,0.09)(0.50,-0.12)(0.51,0.04)(0.51,-0.10)(0.51,0.07)(0.52,-0.08)
(0.52,0.10)(0.52,-0.03)(0.53,0.06)(0.53,-0.13)(0.53,0.03)(0.54,-0.07)(0.54,0.08)(0.54,-0.10)(0.55,0.11)(0.55,-0.05)
(0.55,0.04)(0.56,-0.12)(0.56,0.07)(0.56,-0.03)(0.57,0.09)(0.57,-0.09)(0.57,0.05)(0.58,-0.06)(0.58,0.12)(0.58,-0.14)
(0.59,0.05)(0.59,-0.10)(0.59,0.08)(0.60,-0.08)(0.60,0.10)(0.60,0.02)(0.61,0.13)(0.61,-0.12)(0.61,-0.04)(0.62,-0.09)
(0.62,0.07)(0.62,0.04)(0.63,0.10)(0.63,-0.06)(0.63,-0.13)(0.64,-0.11)(0.64,0.12)(0.64,0.03)(0.65,0.07)(0.65,-0.08)
(0.65,0.09)(0.66,-0.06)(0.66,0.11)(0.66,-0.12)(0.67,0.13)(0.67,-0.10)(0.67,0.04)(0.68,-0.09)(0.68,0.08)(0.68,-0.03)
(0.69,0.11)(0.69,-0.13)(0.69,0.05)(0.70,-0.07)(0.70,0.09)(0.70,0.14)(0.71,0.06)(0.71,-0.11)(0.71,-0.03)(0.72,-0.12)
(0.72,0.12)(0.72,0.04)(0.73,0.09)(0.73,-0.07)(0.73,-0.15)(0.74,-0.10)(0.74,0.07)(0.74,0.03)(0.75,0.12)(0.75,-0.12)
(0.75,-0.04)(0.76,-0.08)(0.76,0.10)(0.76,0.05)(0.77,0.14)(0.77,-0.10)(0.77,-0.02)(0.78,-0.13)(0.78,0.08)(0.78,0.03)
(0.79,0.10)(0.79,-0.06)(0.79,0.15)(0.80,-0.11)(0.80,0.12)(0.80,-0.03)(0.81,0.08)(0.81,-0.14)(0.81,0.04)(0.82,-0.07)
(0.82,0.14)(0.82,-0.10)(0.83,0.11)(0.83,-0.12)(0.83,0.05)(0.84,-0.09)(0.84,0.09)(0.84,-0.15)(0.85,0.13)(0.85,-0.06)
(0.85,0.03)(0.86,-0.12)(0.86,0.11)(0.86,-0.04)(0.87,0.08)(0.87,-0.10)(0.87,0.16)(0.88,-0.14)(0.88,0.12)(0.88,0.04)
(0.89,0.10)(0.89,-0.08)(0.89,-0.02)(0.90,-0.10)(0.90,0.15)(0.90,0.05)(0.91,0.12)(0.91,-0.13)(0.91,-0.05)(0.92,-0.07)
(0.92,0.09)(0.92,0.18)(0.93,0.14)(0.93,-0.11)(0.93,0.03)(0.94,-0.12)(0.94,0.11)(0.94,-0.04)(0.95,0.09)(0.95,-0.08)
(0.95,0.16)(0.96,-0.14)(0.96,0.13)(0.96,0.05)(0.97,0.11)(0.97,-0.10)(0.97,-0.03)(0.98,-0.07)(0.98,0.16)(0.98,0.06)
(0.99,0.12)(0.99,-0.13)(0.99,-0.02)(1.00,-0.10)(1.00,0.10)(1.00,0.19)(1.02,0.13)(1.02,-0.09)(1.02,0.04)(1.04,-0.12)
(1.04,0.15)(1.04,-0.03)(1.06,0.09)(1.06,-0.15)(1.06,0.06)(1.08,-0.08)(1.08,0.12)(1.08,0.02)(1.10,0.16)(1.10,-0.11)
(1.10,-0.04)(1.13,-0.09)(1.13,0.10)(1.13,0.05)(1.16,0.12)(1.16,-0.06)(1.20,-0.11)(1.20,0.08)(1.25,0.10)(1.25,-0.07)
(1.30,0.15)(1.30,-0.09)(1.38,-0.05)(1.38,0.11)
(0.250,0.015)(0.255,-0.02)(0.26,0.02)(0.265,-0.015)(0.27,0.025)(0.275,-0.025)(0.28,0.01)(0.285,-0.02)(0.29,0.025)(0.295,-0.01)
(0.30,0.02)(0.305,-0.03)(0.31,0.015)(0.315,-0.02)(0.32,0.03)(0.325,-0.015)(0.33,0.02)(0.335,-0.03)(0.34,0.025)(0.345,-0.01)
(0.35,0.03)(0.355,-0.025)(0.36,0.015)(0.365,-0.035)(0.37,0.025)(0.375,-0.015)(0.38,0.035)(0.385,-0.02)(0.39,0.02)(0.395,-0.035)
(0.40,0.03)(0.405,-0.015)(0.41,0.02)(0.415,-0.03)(0.42,0.035)(0.425,-0.02)(0.43,0.015)(0.435,-0.035)(0.44,0.03)(0.445,-0.015)
(0.45,0.02)(0.455,-0.03)(0.46,0.035)(0.465,-0.02)(0.47,0.015)(0.475,-0.035)(0.48,0.03)(0.485,-0.01)(0.49,0.025)(0.495,-0.03)
(0.50,0.035)(0.505,-0.02)(0.51,0.015)(0.515,-0.035)(0.52,0.03)(0.525,-0.015)(0.53,0.02)(0.535,-0.03)(0.54,0.035)(0.545,-0.02)
(0.55,0.015)(0.555,-0.035)(0.56,0.03)(0.565,-0.015)(0.57,0.025)(0.575,-0.03)(0.58,0.035)(0.585,-0.02)(0.59,0.02)(0.595,-0.035)
(0.60,0.03)(0.61,-0.02)(0.62,0.035)(0.63,-0.03)(0.64,0.02)(0.65,-0.035)(0.66,0.03)(0.67,-0.02)(0.68,0.025)(0.69,-0.03)
(0.70,0.035)(0.71,-0.015)(0.72,0.02)(0.73,-0.035)(0.74,0.03)(0.75,-0.02)(0.76,0.025)(0.77,-0.03)(0.78,0.035)(0.79,-0.015)
(0.80,0.02)(0.81,-0.035)(0.82,0.03)(0.83,-0.02)(0.84,0.025)(0.85,-0.03)(0.86,0.035)(0.87,-0.015)(0.88,0.02)(0.89,-0.035)
(0.90,0.03)(0.91,-0.02)(0.92,0.025)(0.93,-0.03)(0.94,0.035)(0.95,-0.015)(0.96,0.02)(0.97,-0.035)(0.98,0.03)(0.99,-0.02)
(1.00,0.025)(1.02,-0.03)(1.04,0.035)(1.06,-0.02)(1.08,0.02)(1.10,-0.035)
};
\addplot[zeroline, line width=1.6pt] coordinates {(0.19953,0) (2.5,0)};
\node[tag] at (axis description cs:0.094,0.85) {Validation};
\end{axis}
\end{tikzpicture}
\end{document}
